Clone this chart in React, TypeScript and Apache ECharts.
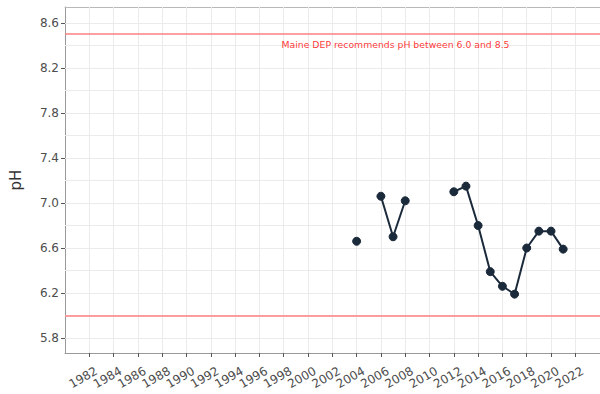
import React, { useEffect, useRef } from "react";
import * as echarts from "echarts";

const YEARS = [2004, 2005, 2006, 2007, 2008, 2009, 2010, 2011, 2012, 2013, 2014, 2015, 2016, 2017, 2018, 2019, 2020, 2021];
const PH = [6.66, null, 7.06, 6.7, 7.02, null, null, null, 7.1, 7.15, 6.8, 6.39, 6.26, 6.19, 6.6, 6.75, 6.75, 6.59];
const X_TICKS = [1982, 1984, 1986, 1988, 1990, 1992, 1994, 1996, 1998, 2000, 2002, 2004, 2006, 2008, 2010, 2012, 2014, 2016, 2018, 2020, 2022];
const Y_TICKS = [5.8, 6.2, 6.6, 7.0, 7.4, 7.8, 8.2, 8.6];
const Y_GRID = [5.8, 6.0, 6.2, 6.4, 6.6, 6.8, 7.0, 7.2, 7.4, 7.6, 7.8, 8.0, 8.2, 8.4, 8.6];
const LIMITS = [6.0, 8.5];
const NOTE = "Maine DEP recommends pH between 6.0 and 8.5";
const NOTE_POS = [2007.2, 8.405];

export default function App() {
  const ref = useRef<HTMLDivElement>(null);
  useEffect(() => {
    document.body.style.margin = "0";
    const chart = echarts.init(ref.current!, null, { renderer: "svg" });
    const font = "DejaVu Sans";
    const gridStyle = { color: "#ebebeb", width: 1, type: "solid" as const };
    const X_MIN = 1980;
    const X_MAX = 2024.03;
    chart.setOption({
      animation: false,
      backgroundColor: "#ffffff",
      textStyle: { fontFamily: font },
      grid: { left: 64, top: 7, right: -2, bottom: 41, show: false },
      xAxis: [
        {
          type: "value",
          min: X_MIN,
          max: X_MAX,
          axisLine: { show: true, lineStyle: { color: "#999999", width: 1 } },
          axisTick: { show: true, customValues: X_TICKS, length: 4, lineStyle: { color: "#555555" } },
          axisLabel: {
            customValues: X_TICKS,
            rotate: 30,
            fontSize: 12,
            color: "#4d4d4d",
            fontFamily: font,
            formatter: (v: number) => String(v),
            margin: 21,
            align: "center",
            verticalAlign: "middle",
            padding: [0, 14, 0, 0],
          },
          splitLine: { show: false },
        },
        {
          type: "value",
          position: "top",
          min: X_MIN,
          max: X_MAX,
          axisLine: { show: true, lineStyle: { color: "#b8b8b8", width: 1 } },
          axisTick: { show: false },
          axisLabel: { show: false },
          splitLine: { show: false },
        },
      ],
      yAxis: {
        type: "value",
        min: 5.667,
        max: 8.742,
        name: "pH",
        nameLocation: "middle",
        nameGap: 42,
        nameTextStyle: { fontSize: 15, color: "#333333", fontFamily: font },
        axisLine: { show: true, lineStyle: { color: "#999999", width: 1 } },
        axisTick: { show: true, customValues: Y_TICKS, length: 4, lineStyle: { color: "#555555" } },
        axisLabel: { customValues: Y_TICKS, fontSize: 12, color: "#4d4d4d", fontFamily: font, formatter: (v: number) => v.toFixed(1), margin: 6 },
        splitLine: { show: false },
      },
      series: [
        {
          type: "line",
          data: [],
          silent: true,
          z: 1,
          markLine: {
            silent: true,
            symbol: "none",
            label: { show: false },
            lineStyle: gridStyle,
            data: [
              ...Y_GRID.map((v) => ({ yAxis: v })),
              ...X_TICKS.map((v) => ({ xAxis: v })),
            ],
          },
        },
        {
          type: "line",
          data: [],
          silent: true,
          z: 2,
          markLine: {
            silent: true,
            symbol: "none",
            label: { show: false },
            lineStyle: { color: "#ff8080", width: 1.5, type: "solid" },
            data: LIMITS.map((v) => ({ yAxis: v })),
          },
        },
        {
          type: "scatter",
          silent: true,
          symbolSize: 0,
          z: 10,
          data: [NOTE_POS],
          label: { show: true, position: "inside", formatter: NOTE, color: "#ff0000", fontSize: 9.3, fontFamily: font },
        },
        {
          type: "line",
          z: 5,
          data: YEARS.map((y, i) => [y, PH[i]]),
          connectNulls: false,
          showAllSymbol: true,
          symbol: "circle",
          symbolSize: 8,
          lineStyle: { color: "#1b2a3b", width: 2 },
          itemStyle: { color: "#1b2a3b", borderColor: "#1b2a3b" },
        },
      ],
    });
    return () => chart.dispose();
  }, []);
  return <div ref={ref} style={{ width: 600, height: 394 }} />;
}
